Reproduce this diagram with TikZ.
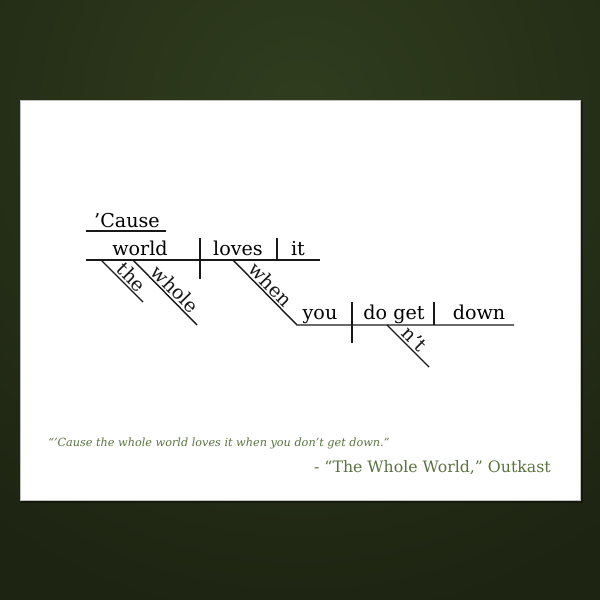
\documentclass[tikz,border=0pt]{standalone}
\usepackage{fontspec}
\setmainfont{DejaVu Serif}
\usepackage{xcolor}
\definecolor{bgdark}{HTML}{1D2412}
\definecolor{bgglow}{HTML}{303D1E}
\definecolor{quotegreen}{HTML}{5A7340}

\begin{document}
\begin{tikzpicture}[x=0.025cm, y=-0.025cm,
    diag/.style={line width=1pt, color=black!90},
    word/.style={font=\fontsize{13.6}{15}\selectfont, inner sep=1.2pt}]
    \useasboundingbox (0,0) rectangle (600,600);

    % backdrop and card
    \begin{scope}
        \clip (0,0) rectangle (600,600);
        \fill[bgdark] (0,0) rectangle (600,600);
        \shade[inner color=bgglow, outer color=bgdark] (300,110) circle (520);
    \end{scope}
    \fill[black, opacity=0.35] (21,101) rectangle (583,503);
    \draw[fill=white, draw=black!25, line width=0.6pt] (20,100) rectangle (580,500);

    % interjection
    \draw[diag] (86,231) -- (166,231);
    \node[word, anchor=base] at (127,227) {’Cause};

    % main clause
    \draw[diag] (86,260) -- (320,260);
    \draw[diag] (200,238) -- (200,279);
    \draw[diag] (277,238) -- (277,260);
    \node[word, anchor=base] at (140,255) {world};
    \node[word, anchor=base] at (238,255) {loves};
    \node[word, anchor=base] at (298,255) {it};
    \draw[diag] (101,260) -- node[word, sloped, above, pos=0.57] {the} (143,302);
    \draw[diag] (133,260) -- node[word, sloped, above, pos=0.55] {whole} (197,325);

    % subordinate clause
    \draw[diag] (233,260) -- node[word, sloped, above, pos=0.48] {when} (297,325) -- (514,325);
    \draw[diag] (352,302) -- (352,343);
    \draw[diag] (434,302) -- (434,325);
    \node[word, anchor=base] at (320,319) {you};
    \node[word, anchor=base] at (394,319) {do get};
    \node[word, anchor=base] at (479,319) {down};
    \draw[diag] (387,325) -- node[word, sloped, above, pos=0.5] {n’t} (429,367);

    % quote
    \node[anchor=base west, text=quotegreen, inner sep=0pt,
        font=\fontsize{8}{10}\selectfont\itshape] at (48,446)
        {“’Cause the whole world loves it when you don’t get down.”};
    \node[anchor=base east, text=quotegreen, inner sep=0pt,
        font=\fontsize{11.2}{13}\selectfont] at (551,472)
        {- “The Whole World,” Outkast};
\end{tikzpicture}
\end{document}
